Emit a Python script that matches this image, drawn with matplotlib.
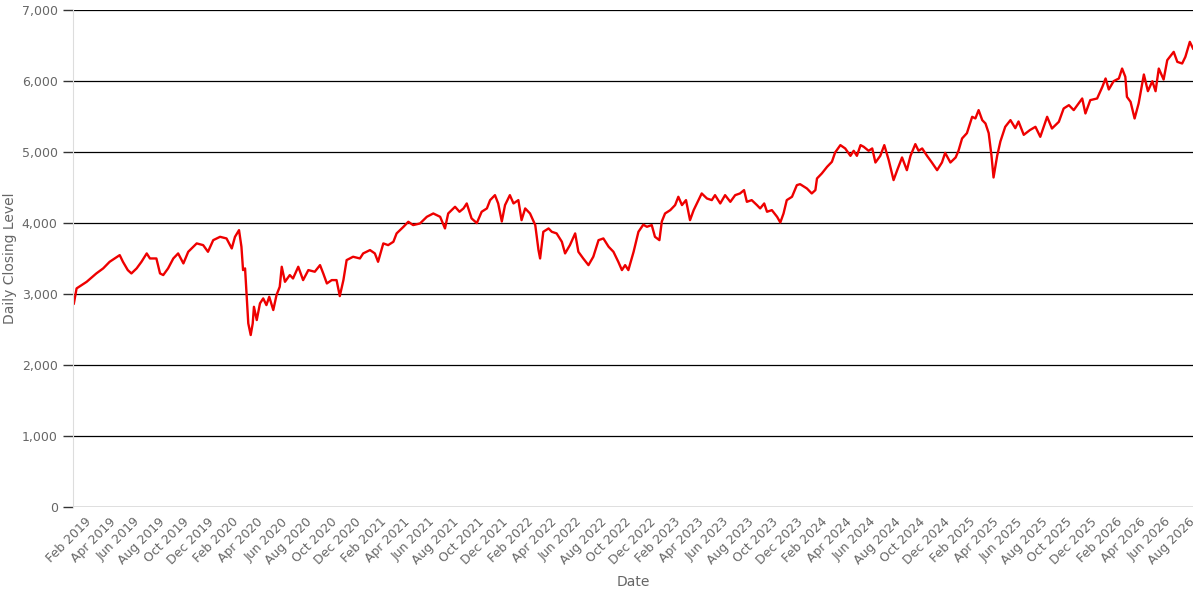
import matplotlib.pyplot as plt
import matplotlib.dates as mdates
import matplotlib.ticker as mticker
import pandas as pd

# closing levels
dates = [
    "2019-01-02", "2019-01-04", "2019-01-11", "2019-02-05", "2019-03-01", "2019-03-18",
    "2019-04-03", "2019-04-28", "2019-05-06", "2019-05-18", "2019-05-27", "2019-06-09",
    "2019-06-21", "2019-07-04", "2019-07-12", "2019-07-28", "2019-08-06", "2019-08-14",
    "2019-08-26", "2019-09-08", "2019-09-20", "2019-10-03", "2019-10-15", "2019-11-05",
    "2019-11-21", "2019-12-03", "2019-12-16", "2020-01-02", "2020-01-18", "2020-01-31",
    "2020-02-08", "2020-02-18", "2020-02-24", "2020-02-28", "2020-03-04", "2020-03-08",
    "2020-03-12", "2020-03-18", "2020-03-23", "2020-03-26", "2020-04-02", "2020-04-10",
    "2020-04-18", "2020-04-26", "2020-05-03", "2020-05-13", "2020-05-21", "2020-05-29",
    "2020-06-03", "2020-06-11", "2020-06-23", "2020-07-01", "2020-07-14", "2020-07-26",
    "2020-08-08", "2020-08-24", "2020-09-06", "2020-09-14", "2020-09-23", "2020-10-05",
    "2020-10-17", "2020-10-25", "2020-11-03", "2020-11-11", "2020-11-27", "2020-12-14",
    "2020-12-22", "2021-01-08", "2021-01-20", "2021-01-28", "2021-02-10", "2021-02-22",
    "2021-03-07", "2021-03-15", "2021-04-01", "2021-04-13", "2021-04-25", "2021-05-12",
    "2021-05-29", "2021-06-14", "2021-07-01", "2021-07-13", "2021-07-21", "2021-08-07",
    "2021-08-18", "2021-08-28", "2021-09-05", "2021-09-17", "2021-09-30", "2021-10-12",
    "2021-10-25", "2021-11-02", "2021-11-14", "2021-11-22", "2021-12-01", "2021-12-09",
    "2021-12-21", "2021-12-30", "2022-01-11", "2022-01-19", "2022-01-28", "2022-02-09",
    "2022-02-22", "2022-03-02", "2022-03-06", "2022-03-14", "2022-03-27", "2022-04-04",
    "2022-04-16", "2022-04-29", "2022-05-07", "2022-05-19", "2022-06-01", "2022-06-09",
    "2022-06-21", "2022-07-04", "2022-07-16", "2022-07-29", "2022-08-10", "2022-08-23",
    "2022-09-04", "2022-09-16", "2022-09-25", "2022-10-03", "2022-10-11", "2022-10-24",
    "2022-11-05", "2022-11-17", "2022-11-26", "2022-12-08", "2022-12-16", "2022-12-27",
    "2023-01-02", "2023-01-10", "2023-01-23", "2023-02-04", "2023-02-12", "2023-02-21",
    "2023-03-03", "2023-03-13", "2023-03-22", "2023-04-03", "2023-04-11", "2023-04-24",
    "2023-05-06", "2023-05-14", "2023-05-27", "2023-06-08", "2023-06-21", "2023-07-03",
    "2023-07-15", "2023-07-25", "2023-08-01", "2023-08-13", "2023-08-26", "2023-09-03",
    "2023-09-13", "2023-09-20", "2023-10-02", "2023-10-15", "2023-10-23", "2023-10-31",
    "2023-11-08", "2023-11-21", "2023-12-03", "2023-12-11", "2023-12-28", "2024-01-09",
    "2024-01-18", "2024-01-22", "2024-02-03", "2024-02-16", "2024-02-28", "2024-03-07",
    "2024-03-20", "2024-04-01", "2024-04-14", "2024-04-22", "2024-04-30", "2024-05-09",
    "2024-05-17", "2024-05-29", "2024-06-07", "2024-06-15", "2024-06-27", "2024-07-07",
    "2024-07-18", "2024-07-30", "2024-08-08", "2024-08-20", "2024-09-01", "2024-09-10",
    "2024-09-22", "2024-09-30", "2024-10-09", "2024-10-21", "2024-11-02", "2024-11-15",
    "2024-11-27", "2024-12-05", "2024-12-18", "2024-12-31", "2025-01-07", "2025-01-16",
    "2025-01-28", "2025-02-10", "2025-02-18", "2025-02-26", "2025-03-07", "2025-03-15",
    "2025-03-23", "2025-03-30", "2025-04-04", "2025-04-13", "2025-04-21", "2025-05-03",
    "2025-05-16", "2025-05-28", "2025-06-05", "2025-06-18", "2025-07-03", "2025-07-17",
    "2025-07-29", "2025-08-15", "2025-08-27", "2025-09-13", "2025-09-25", "2025-10-08",
    "2025-10-20", "2025-11-01", "2025-11-10", "2025-11-18", "2025-11-30", "2025-12-17",
    "2025-12-30", "2026-01-07", "2026-01-15", "2026-01-27", "2026-02-09", "2026-02-17",
    "2026-02-25", "2026-03-01", "2026-03-10", "2026-03-20", "2026-03-30", "2026-04-12",
    "2026-04-22", "2026-05-03", "2026-05-11", "2026-05-19", "2026-05-31", "2026-06-09",
    "2026-06-25", "2026-07-04", "2026-07-16", "2026-07-24", "2026-08-04", "2026-08-12",
]

closing = [
    2960, 2860, 3080, 3173, 3291, 3362,
    3455, 3549, 3455, 3338, 3291, 3362,
    3455, 3573, 3502, 3502, 3291, 3268,
    3362, 3502, 3573, 3432, 3596, 3714,
    3690, 3596, 3760, 3807, 3784, 3643,
    3807, 3901, 3667, 3338, 3362, 2962,
    2587, 2423, 2587, 2821, 2634, 2869,
    2939, 2845, 2962, 2775, 2986, 3103,
    3385, 3173, 3268, 3220, 3385, 3197,
    3338, 3315, 3408, 3291, 3150, 3197,
    3197, 2972, 3197, 3479, 3526, 3502,
    3573, 3620, 3573, 3455, 3714, 3690,
    3737, 3855, 3948, 4019, 3972, 3995,
    4089, 4136, 4089, 3925, 4136, 4230,
    4160, 4207, 4277, 4066, 4000, 4160,
    4207, 4324, 4394, 4277, 4023, 4254,
    4394, 4277, 4324, 4042, 4207, 4136,
    3972, 3620, 3502, 3878, 3925, 3878,
    3855, 3737, 3573, 3690, 3855, 3596,
    3502, 3408, 3526, 3760, 3784, 3667,
    3596, 3455, 3338, 3408, 3338, 3596,
    3878, 3978, 3948, 3972, 3807, 3760,
    4023, 4136, 4183, 4254, 4371, 4254,
    4324, 4042, 4183, 4324, 4418, 4347,
    4324, 4394, 4277, 4394, 4300, 4394,
    4418, 4465, 4300, 4324, 4254, 4207,
    4277, 4160, 4183, 4089, 4009, 4136,
    4324, 4371, 4535, 4549, 4488, 4418,
    4465, 4629, 4700, 4793, 4864, 4995,
    5099, 5052, 4948, 5019, 4948, 5099,
    5075, 5019, 5052, 4854, 4948, 5099,
    4887, 4606, 4746, 4925, 4746, 4948,
    5113, 5019, 5052, 4948, 4854, 4746,
    4854, 4990, 4854, 4925, 5019, 5193,
    5268, 5498, 5475, 5592, 5451, 5404,
    5268, 4948, 4643, 4948, 5150, 5357,
    5451, 5338, 5432, 5244, 5310, 5357,
    5216, 5498, 5333, 5427, 5615, 5662,
    5592, 5686, 5756, 5545, 5733, 5756,
    5920, 6038, 5883, 6000, 6038, 6178,
    6061, 5779, 5709, 5474, 5686, 6094,
    5859, 6000, 5859, 6178, 6023, 6296,
    6413, 6272, 6249, 6343, 6554, 6460,
]

grey = "#666666"

def main():
    x = pd.to_datetime(dates)

    fig = plt.figure(figsize=(12, 6), dpi=100)
    ax = fig.add_axes([0.0608, 0.155, 0.9334, 0.828])

    ax.plot(x, closing, color="#ee0000", linewidth=1.7)

    ax.set_xlim(x[0], x[-1])
    ax.set_ylim(0, 7000)
    ax.set_yticks(range(0, 7001, 1000))
    ax.yaxis.set_major_formatter(mticker.StrMethodFormatter("{x:,.0f}"))
    ax.grid(axis="y", color="black", linewidth=0.9)
    ax.set_axisbelow(True)

    ax.xaxis.set_major_locator(mdates.MonthLocator(bymonth=[2, 4, 6, 8, 10, 12]))
    ax.xaxis.set_major_formatter(mdates.DateFormatter("%b %Y"))
    plt.setp(ax.get_xticklabels(), rotation=45, ha="right", rotation_mode="anchor")

    for side in ["top", "right", "bottom"]:
        ax.spines[side].set_visible(False)
    ax.spines["left"].set_color("#dddddd")

    ax.tick_params(axis="x", length=0, pad=6, labelsize=9, labelcolor=grey)
    ax.tick_params(axis="y", length=7, width=1, color="#333333", pad=4,
                   labelsize=9, labelcolor=grey)

    ax.set_xlabel("Date", fontsize=10, color=grey, labelpad=6)
    ax.set_ylabel("Daily Closing Level", fontsize=10, color=grey, labelpad=5)
    ax.yaxis.set_label_coords(-0.05, 0.5)

    fig.savefig("out.png", dpi=100)

if __name__ == "__main__":
    main()
